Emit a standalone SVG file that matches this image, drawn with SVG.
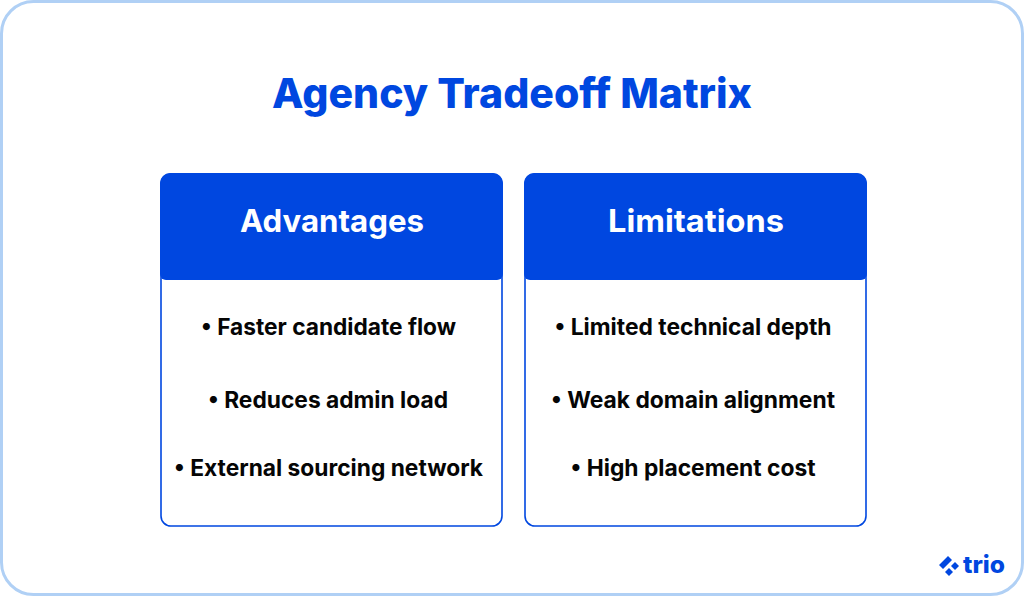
<svg xmlns="http://www.w3.org/2000/svg" width="1024" height="596" viewBox="0 0 1024 596">
<style>
.t{font-family:"Inter","Liberation Sans",sans-serif;text-anchor:middle}
.h{font-size:31.5px;font-weight:700;fill:#fff}
.b{font-size:22.8px;font-weight:700;fill:#050505}
.card{fill:#fff;stroke:#0047e0;stroke-width:1.6}
.head{fill:#0047e0}
</style>
<rect width="1024" height="596" fill="#fff"/>
<rect x="1.5" y="1.5" width="1021" height="593" rx="32" fill="#fff" stroke="#b0d0f5" stroke-width="3"/>
<text class="t" x="512" y="108" font-size="41" font-weight="800" fill="#0047e0" textLength="480" lengthAdjust="spacingAndGlyphs">Agency Tradeoff Matrix</text>
<g id="advantages">
<rect class="card" x="161" y="174" width="341" height="352" rx="10"/>
<path class="head" d="M171 173H493a10 10 0 0 1 10 10V274a6 6 0 0 1-6 6H166a6 6 0 0 1-6-6V183a10 10 0 0 1 10-10Z"/>
<text class="t h" x="332" y="232" textLength="184" lengthAdjust="spacingAndGlyphs">Advantages</text>
<text class="t b" x="328.500" y="335" textLength="255" lengthAdjust="spacingAndGlyphs">• Faster candidate flow</text>
<text class="t b" x="328" y="408" textLength="240" lengthAdjust="spacingAndGlyphs">• Reduces admin load</text>
<text class="t b" x="328.500" y="476" textLength="309" lengthAdjust="spacingAndGlyphs">• External sourcing network</text>
</g>
<g id="limitations">
<rect class="card" x="525" y="174" width="341" height="352" rx="10"/>
<path class="head" d="M535 173H857a10 10 0 0 1 10 10V274a6 6 0 0 1-6 6H530a6 6 0 0 1-6-6V183a10 10 0 0 1 10-10Z"/>
<text class="t h" x="696" y="232" textLength="176" lengthAdjust="spacingAndGlyphs">Limitations</text>
<text class="t b" x="693" y="335" textLength="277" lengthAdjust="spacingAndGlyphs">• Limited technical depth</text>
<text class="t b" x="693" y="408" textLength="284" lengthAdjust="spacingAndGlyphs">• Weak domain alignment</text>
<text class="t b" x="693" y="476" textLength="245" lengthAdjust="spacingAndGlyphs">• High placement cost</text>
</g>
<g id="logo">
<path d="M939 565l9-9 4 4-9 9ZM955 562l4 4-4 4-4-4ZM949 568l4 4-4 4-4-4Z" fill="#0047e0"/>
<text x="963" y="573" font-family="Inter,'Liberation Sans',sans-serif" font-size="24" font-weight="800" fill="#0047e0" textLength="42" lengthAdjust="spacingAndGlyphs">trio</text>
</g>
</svg>
